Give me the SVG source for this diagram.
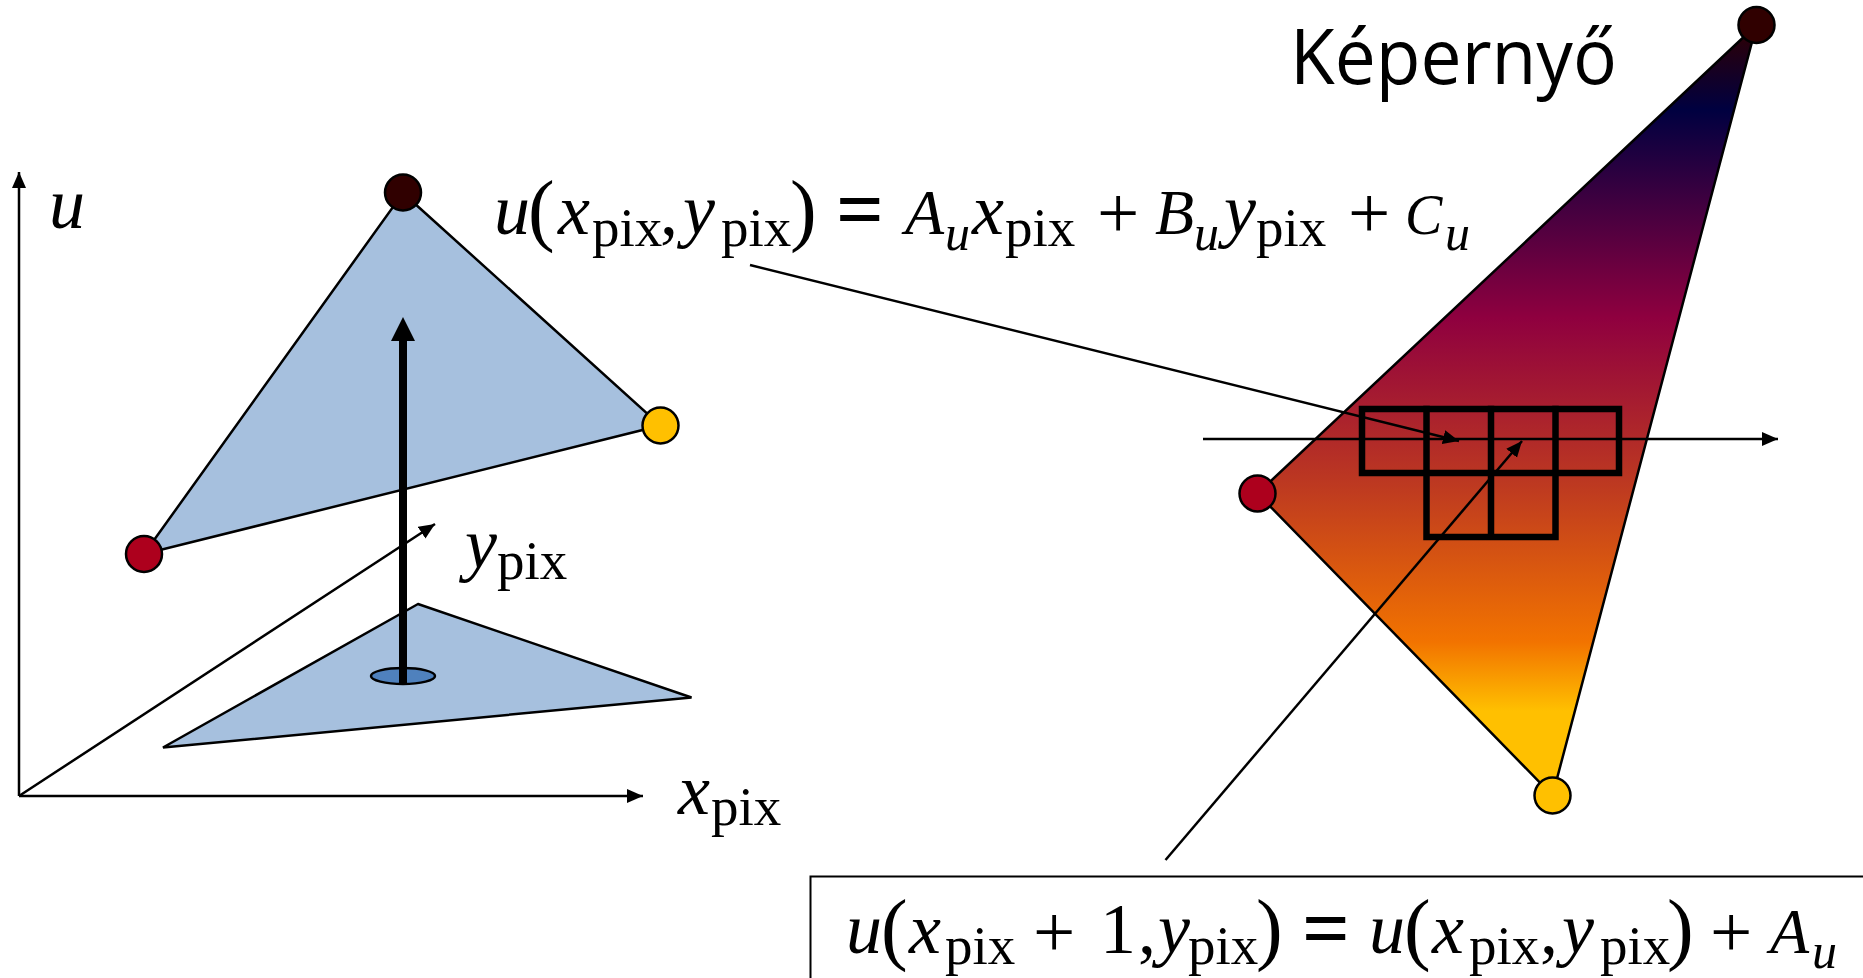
<svg xmlns="http://www.w3.org/2000/svg" width="1863" height="978" viewBox="0 0 1863 978">
<style>
.tri{fill:#a6c0de;stroke:#000;stroke-width:2.5;stroke-linejoin:miter}
.v{stroke:#000;stroke-width:2.5}
.ln{fill:none;stroke:#000;stroke-width:2.5}
.m{font-family:"Liberation Serif",serif;font-size:72px;fill:#000}
.i{font-style:italic}
.k{font-size:64px;font-style:italic}
.c{font-size:56px;font-style:italic}
.s{font-size:55px;font-style:normal}
.si{font-size:50px;font-style:italic}
.p{font-size:80px;font-style:normal}
.o{font-size:75px;font-style:normal}
.e{font-size:84px;font-style:normal;font-weight:bold}
.g{fill:none;stroke:#000;stroke-width:6.5;stroke-linecap:square}
</style>
<defs>
<marker id="a" markerUnits="userSpaceOnUse" markerWidth="18" markerHeight="16" refX="16" refY="7" orient="auto"><path d="M0 0L16 7L0 14Z" fill="#000"/></marker>
<marker id="b" markerUnits="userSpaceOnUse" markerWidth="26" markerHeight="28" refX="0" refY="12" orient="auto"><path d="M0 0L24 12L0 24Z" fill="#000"/></marker>
<linearGradient id="gr" gradientUnits="userSpaceOnUse" x1="0" y1="25" x2="0" y2="796">
<stop offset="0" stop-color="#300000"/><stop offset="0.11" stop-color="#000040"/><stop offset="0.38" stop-color="#8f003f"/><stop offset="0.6" stop-color="#be3a20"/><stop offset="0.8" stop-color="#f27300"/><stop offset="0.89" stop-color="#ffc000"/><stop offset="1" stop-color="#ffc000"/>
</linearGradient>
</defs>
<g id="triangle-lower"><polygon class="tri" points="418,604 691.500,697.500 163,747.500"/><ellipse cx="403" cy="676" rx="32" ry="8" fill="#4f81bd" stroke="#000" stroke-width="2.5"/></g>
<g id="triangle-upper"><polygon class="tri" points="403,193 660.500,425.500 144,554"/></g>
<g id="screen-triangle"><polygon points="1756.500,25 1257.500,493.500 1552.500,795.500" fill="url(#gr)" stroke="#000" stroke-width="2.5"/></g>
<g id="pixel-grid">
<rect class="g" x="1362" y="409" width="257" height="64"/>
<path class="g" d="M1426.500 409V537M1491 409V537M1555.500 409V537M1426.500 537H1555.500"/>
</g>
<g id="connectors">
<line class="ln" x1="19" y1="796" x2="19" y2="172" marker-end="url(#a)"/>
<line class="ln" x1="19" y1="796" x2="643" y2="796" marker-end="url(#a)"/>
<line class="ln" x1="19" y1="796" x2="435" y2="524" marker-end="url(#a)"/>
<line x1="403" y1="684" x2="403" y2="341" stroke="#000" stroke-width="8" marker-end="url(#b)"/>
<line class="ln" x1="1203" y1="439" x2="1778" y2="439" marker-end="url(#a)"/>
<line class="ln" x1="750" y1="265" x2="1459" y2="441" marker-end="url(#a)"/>
<line class="ln" x1="1165.500" y1="860" x2="1522" y2="441" marker-end="url(#a)"/>
</g>
<g id="vertex-top"><circle class="v" cx="403" cy="192.500" r="18" fill="#300000"/></g>
<g id="vertex-right"><circle class="v" cx="660.500" cy="425.500" r="18" fill="#ffc000"/></g>
<g id="vertex-left"><circle class="v" cx="144" cy="554" r="18" fill="#ad001d"/></g>
<g id="screen-vertex-top"><circle class="v" cx="1756.500" cy="25" r="18" fill="#300000"/></g>
<g id="screen-vertex-left"><circle class="v" cx="1257.500" cy="493.500" r="18" fill="#ad001d"/></g>
<g id="screen-vertex-bottom"><circle class="v" cx="1552.500" cy="795.500" r="18" fill="#ffc000"/></g>
<g id="label-screen"><text x="1290" y="84" font-family="'Open Sans',sans-serif" font-size="76px" textLength="327" lengthAdjust="spacingAndGlyphs">Képernyő</text></g>
<g id="label-u"><text class="m i" x="49" y="228">u</text></g>
<g id="label-ypix"><text class="m" y="568"><tspan class="i" x="465">y</tspan><tspan class="s" x="497" y="579">pix</tspan></text></g>
<g id="label-xpix"><text class="m" y="814"><tspan class="i" x="678">x</tspan><tspan class="s" x="711" y="825">pix</tspan></text></g>
<g id="formula-plane"><text class="m" y="234"><tspan class="i" x="494">u</tspan><tspan class="p" x="528" y="236">(</tspan><tspan class="i" x="558" y="234">x</tspan><tspan class="s" x="592" y="246">pix</tspan><tspan x="660" y="234">,</tspan><tspan class="i" x="683">y</tspan><tspan class="s" x="721" y="246">pix</tspan><tspan class="p" x="790" y="236">)</tspan><tspan class="e" x="836" y="238">=</tspan><tspan class="k" x="905" y="234">A</tspan><tspan class="si" x="945" y="250">u</tspan><tspan class="i" x="972" y="234">x</tspan><tspan class="s" x="1005" y="246">pix</tspan><tspan class="o" x="1097" y="238">+</tspan><tspan class="k" x="1155" y="234">B</tspan><tspan class="si" x="1194" y="250">u</tspan><tspan class="i" x="1224" y="234">y</tspan><tspan class="s" x="1256" y="246">pix</tspan><tspan class="o" x="1348" y="238">+</tspan><tspan class="c" x="1405" y="234">C</tspan><tspan class="si" x="1445" y="250">u</tspan></text></g>
<g id="formula-increment">
<rect x="810.500" y="876.500" width="1070" height="120" fill="none" stroke="#000" stroke-width="2"/>
<text class="m" y="953"><tspan class="i" x="846">u</tspan><tspan class="p" x="881" y="955">(</tspan><tspan class="i" x="909" y="953">x</tspan><tspan class="s" x="945" y="964">pix</tspan><tspan class="o" x="1033" y="957">+</tspan><tspan x="1100" y="953">1</tspan><tspan x="1138">,</tspan><tspan class="i" x="1158">y</tspan><tspan class="s" x="1188" y="964">pix</tspan><tspan class="p" x="1256" y="955">)</tspan><tspan class="e" x="1302" y="957">=</tspan><tspan class="i" x="1369" y="953">u</tspan><tspan class="p" x="1404" y="955">(</tspan><tspan class="i" x="1432" y="953">x</tspan><tspan class="s" x="1469" y="964">pix</tspan><tspan x="1540" y="953">,</tspan><tspan class="i" x="1562">y</tspan><tspan class="s" x="1600" y="964">pix</tspan><tspan class="p" x="1667" y="955">)</tspan><tspan class="o" x="1710" y="957">+</tspan><tspan class="k" x="1770" y="953">A</tspan><tspan class="si" x="1812" y="968">u</tspan></text>
</g>
</svg>
